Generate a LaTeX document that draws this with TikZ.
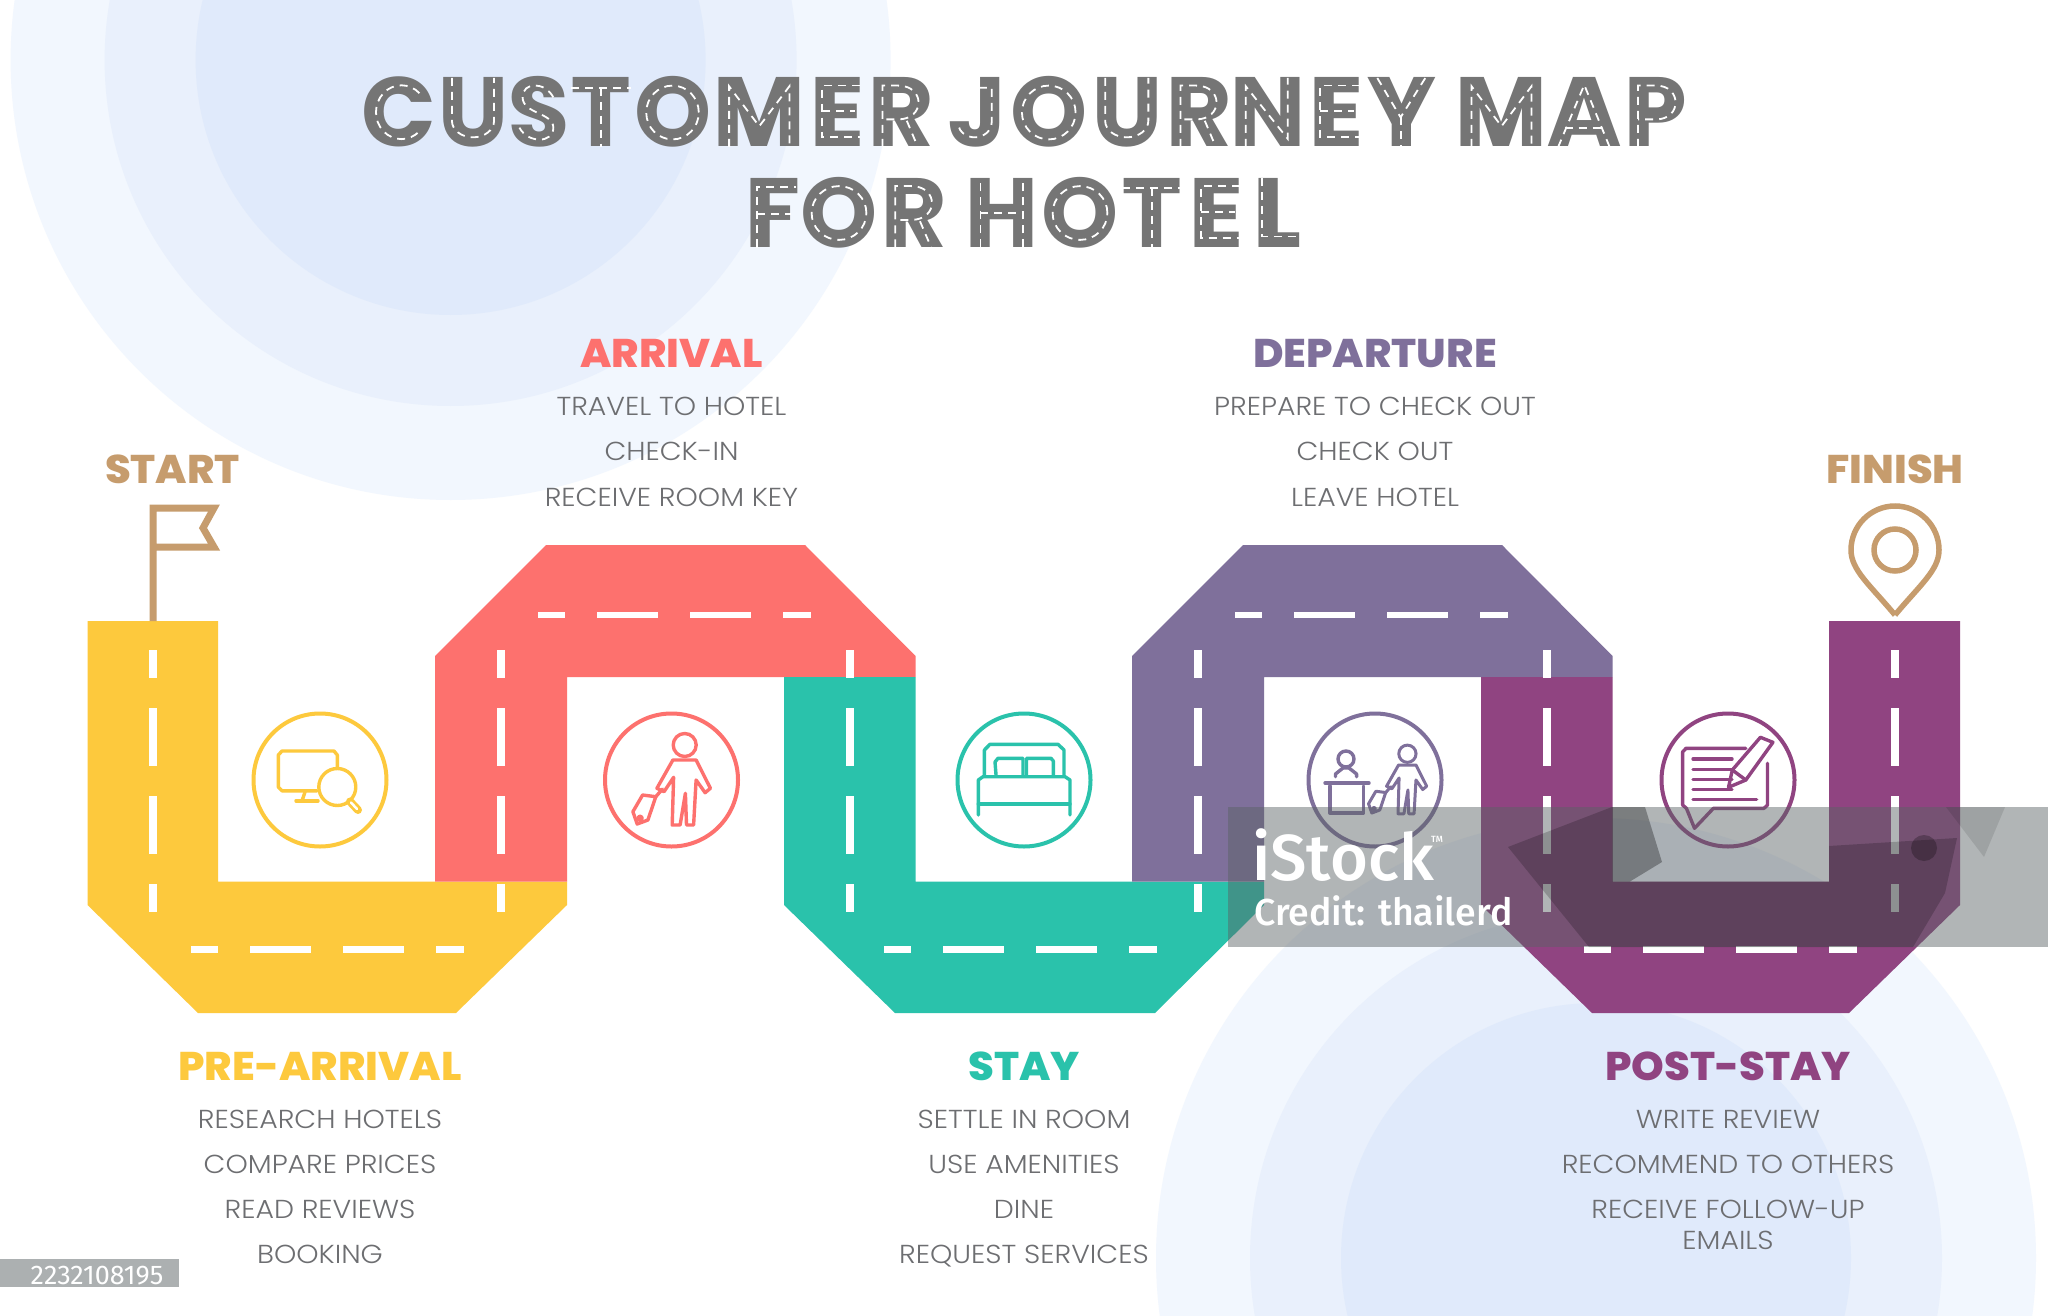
\documentclass[tikz,border=0pt]{standalone}
\usepackage{fontspec}
\setmainfont{Poppins}[UprightFont=* Light,BoldFont=* Bold,FakeStretch=1.09]
\newfontfamily\headfont{Poppins}[UprightFont=* ExtraBold,FakeStretch=1.04]
\newfontfamily\titlefont{Poppins}[UprightFont=* ExtraBold]
\newfontfamily\markfont{Fira Sans}[UprightFont=* Medium]
\newfontfamily\idfont{Fira Sans}
\definecolor{roadyellow}{HTML}{FDC93D}
\definecolor{roadred}{HTML}{FD716E}
\definecolor{roadteal}{HTML}{2AC2AB}
\definecolor{roadslate}{HTML}{7F709B}
\definecolor{roadplum}{HTML}{904481}
\definecolor{signtan}{HTML}{C69C6D}
\definecolor{itemgray}{HTML}{6D6E71}
\definecolor{titlegray}{HTML}{757575}
\definecolor{discouter}{HTML}{F2F7FE}
\definecolor{discmiddle}{HTML}{E9F0FC}
\definecolor{discinner}{HTML}{E0EAFB}
\definecolor{bandgray}{HTML}{5A6264}
\newcommand{\ltrat}[2]{\hbox to 0pt{\hss#2\hss}\kern#1pt\relax}
\tikzset{
    vmark/.style={white,line width=8pt,dash pattern=on 28pt off 30pt on 58pt off 30pt on 58pt off 30pt on 28pt},
    hmark/.style={white,line width=6.5pt,dash pattern=on 27pt off 32pt on 61pt off 32pt on 61pt off 32pt on 28pt},
    heading/.style={anchor=base,inner sep=0pt,font=\headfont\fontsize{40}{40}\selectfont},
    item/.style={anchor=base,inner sep=0pt,text=itemgray,font=\fontsize{26}{30}\selectfont},
    titleline/.style={anchor=base west,inner sep=0pt,text=titlegray,font=\titlefont\fontsize{98}{98}\selectfont},
    badge/.style={circle,draw,line width=4pt,minimum size=133pt,inner sep=0pt},
    glyph/.style={line width=3.4pt,line join=round,line cap=round},
    lane/.style={white,line width=1.8pt,dash pattern=on 8pt off 6pt},
    traveller/.pic={
        \draw (13.2,-35) circle (11.5);
        \draw (1.4,-20) -- (24.6,-20) -- (38.9,8.3) -- (33.6,12.7) -- (24.6,0) -- (22.1,45) -- (15,45) -- (13.9,13.3)
            -- (8.6,45) -- (0.7,45) -- (2.1,-2.7) -- (-7.5,11.7) -- (-14.6,8.3) -- cycle;
        \draw (-38.6,31.7) -- (-28.9,15) -- (-15.7,16.7) -- (-23.6,40) -- (-34.3,44) -- cycle;
        \draw (-15.7,16.7) -- (-9,9);
        \draw (-31.4,38.3) circle (2);
    },
    laneC/.pic={\draw [lane] (.82,.78) arc [start angle=45,end angle=315,x radius=.38,y radius=.39];},
    laneO/.pic={\draw [lane] (.5,.5) ellipse [x radius=.37,y radius=.39];},
    laneU/.pic={\draw [lane] (.16,1) -- (.16,.38) arc [start angle=180,end angle=360,x radius=.34,y radius=.24] -- (.84,1);},
    laneS/.pic={\draw [lane] (.78,.72) .. controls (.62,.95) and (.2,.95) .. (.2,.72) .. controls (.2,.48) and (.78,.5) .. (.78,.28) .. controls (.78,.05) and (.3,.05) .. (.14,.28);},
    laneT/.pic={\draw [lane] (.02,.86) -- (.98,.86); \draw [lane] (.5,.86) -- (.5,0);},
    laneM/.pic={\draw [lane] (.13,0) -- (.13,.88) -- (.5,.3) -- (.87,.88) -- (.87,0);},
    laneE/.pic={\draw [lane] (.96,.89) -- (.2,.89) -- (.2,.14) -- (.96,.14); \draw [lane] (.2,.52) -- (.86,.52);},
    laneR/.pic={\draw [lane] (.18,0) -- (.18,.89) -- (.45,.89) .. controls (.92,.89) and (.92,.4) .. (.45,.4) -- (.18,.4); \draw [lane] (.6,.38) -- (.79,0);},
    laneJ/.pic={\draw [lane] (.26,.86) -- (.78,.86) -- (.78,.36) arc [start angle=0,end angle=-170,x radius=.33,y radius=.22];},
    laneN/.pic={\draw [lane] (.155,0) -- (.155,.88) -- (.82,.12) -- (.82,1);},
    laneY/.pic={\draw [lane] (.16,1) -- (.49,.43) -- (.84,1); \draw [lane] (.49,.43) -- (.49,0);},
    laneA/.pic={\draw [lane] (.14,0) -- (.5,.9) -- (.85,0); \draw [lane] (.23,.27) -- (.78,.27);},
    laneP/.pic={\draw [lane] (.19,0) -- (.19,.89) -- (.5,.89) .. controls (.95,.89) and (.95,.4) .. (.5,.4) -- (.19,.4);},
    laneF/.pic={\draw [lane] (.2,0) -- (.2,.88) -- (.96,.88); \draw [lane] (.2,.48) -- (.87,.48);},
    laneH/.pic={\draw [lane] (.17,0) -- (.17,1); \draw [lane] (.83,0) -- (.83,1); \draw [lane] (.17,.5) -- (.83,.5);},
    laneL/.pic={\draw [lane] (.21,1) -- (.21,.16) -- (.97,.16);}
}
\begin{document}
\begin{tikzpicture}[x=1pt,y=-1pt]
        \useasboundingbox (0,0) rectangle (2048,1316);
        \clip (0,0) rectangle (2048,1316);
        \fill [white] (0,0) rectangle (2048,1316);
        \foreach \cx/\cy in {450.6/60,1596/1258} {
            \fill [discouter] (\cx,\cy) circle (440);
            \fill [discmiddle] (\cx,\cy) circle (346);
            \fill [discinner] (\cx,\cy) circle (255);
        }
        \fill [roadyellow] (87.5,621) -- (218,621) -- (218,881.5) -- (567,881.5) -- (567,905) -- (456,1013) -- (198,1013) -- (87.5,905) -- cycle;
        \fill [roadred] (435,881.5) -- (435,656) -- (546,545) -- (805,545) -- (915.5,656) -- (915.5,677) -- (567,677) -- (567,881.5) -- cycle;
        \fill [roadteal] (784,677) -- (915.5,677) -- (915.5,881.5) -- (1264,881.5) -- (1264,905) -- (1155,1013) -- (895,1013) -- (784,905) -- cycle;
        \fill [roadslate] (1132,881.5) -- (1132,656) -- (1243,545) -- (1502,545) -- (1612.5,656) -- (1612.5,677) -- (1264,677) -- (1264,881.5) -- cycle;
        \fill [roadplum] (1481,677) -- (1612.5,677) -- (1612.5,881.5) -- (1829,881.5) -- (1829,621) -- (1960,621) -- (1960,905) -- (1849,1013) -- (1592,1013) -- (1481,905) -- cycle;
        \foreach \x in {153,501,849.5,1198,1546.5,1895}
            \draw [vmark] (\x,650) -- (\x,912);
        \foreach \x/\y in {191/949.5,538/615,884/949.5,1235/615,1584/949.5}
            \draw [hmark] (\x,\y) -- (\x+274,\y);

        \node (pre_badge) [badge,draw=roadyellow] at (320,780) {};
        \node (arrival_badge) [badge,draw=roadred] at (671.5,780) {};
        \node (stay_badge) [badge,draw=roadteal] at (1024,780) {};
        \node (departure_badge) [badge,draw=roadslate] at (1375,780) {};
        \node (post_badge) [badge,draw=roadplum] at (1728,780) {};

        \begin{scope}[shift={(320,780)},roadyellow,glyph]
            \draw (17.3,-12) -- (17.3,-25) -- (14,-29) -- (-38,-29) -- (-41.7,-25) -- (-41.7,7) -- (-38,10.8) -- (-3,10.8);
            \draw (17.3,7) circle (18.5);
            \draw [line width=8pt,line cap=round] (30,21.5) -- (38,30);
            \draw [white,line width=2.5pt] (31,22.5) -- (37,29);
            \draw (-15,12) -- (-18,20.8);
            \draw (-24,20.8) -- (-2,20.8);
        \end{scope}
        \begin{scope}[shift={(671.5,780)},roadred,glyph]
            \pic {traveller};
        \end{scope}
        \begin{scope}[shift={(1024,780)},roadteal,glyph]
            \draw (-39.6,-5) -- (-39.6,-30) -- (-34,-35.7) -- (34,-35.7) -- (40,-30) -- (40,-5);
            \draw (-27.9,-4) -- (-29,-18) -- (-26,-21.7) -- (-1,-21.7) -- (-1,-4);
            \draw (2.5,-4) -- (2.5,-21.7) -- (27,-21.7) -- (29.3,-19) -- (29.3,-4);
            \draw (-45.7,35) -- (-45.7,0) -- (-41,-3.3) -- (41,-3.3) -- (46,0) -- (46,35);
            \draw (-45.7,24) -- (46,24);
        \end{scope}
        \begin{scope}[shift={(1375,780)},roadslate,glyph]
            \draw (-39.5,-3.3) -- (-39.5,-6) -- (-32,-12) -- (-26,-12) -- (-18.4,-6) -- (-18.4,-3.3);
            \draw (-29,-21) circle (8);
            \draw (-50,3) -- (-6,3);
            \draw (-45,6) -- (-45,33) -- (-11.5,33) -- (-11.5,6);
            \pic [scale=.75,line width=3pt] at (22.5,0) {traveller};
        \end{scope}
        \begin{scope}[shift={(1728,780)},roadplum,glyph]
            \draw (17.8,-31.7) -- (-42,-31.7) -- (-45.4,-28) -- (-45.4,25) -- (-41.6,28.3) -- (-33.5,48.3) -- (-14.6,28.3) -- (36,28.3) -- (39.5,25) -- (39.5,-16.7);
            \foreach \y in {-21,-10.7,-0.7,9.3}
                \draw (-35,\y) -- (4,\y);
            \draw (-35,19.3) -- (28.6,19.3);
            \draw (0.5,7.3) -- (4.3,-10) -- (32.4,-42.7) -- (44.9,-37.7) -- (17.8,0) -- cycle;
            \draw (4.3,-10) -- (17.8,0);
        \end{scope}

        \draw [signtan,line width=7pt] (153,621) -- (153,508) -- (214,508) -- (203,528) -- (214,547) -- (153,547);
        \draw [signtan,line width=5.5pt] (1895,615) .. controls (1870,585) and (1851,570) .. (1851,550) arc (180:360:44) .. controls (1939,570) and (1920,585) .. (1895,615);
        \draw [signtan,line width=5.5pt] (1895,550) circle (21);

        \node (title_upper) [titleline] at (398,147) {\ltrat{75}{C}\ltrat{65.5}{U}\ltrat{62.5}{S}\ltrat{71.5}{T}\ltrat{86.75}{O}\ltrat{77.75}{M}\ltrat{64}{E}\ltrat{76.3}{R}\ltrat{0}{ }\ltrat{71.45}{J}\ltrat{78}{O}\ltrat{72.25}{U}\ltrat{68.5}{R}\ltrat{68.3}{N}\ltrat{65.5}{E}\ltrat{100.2}{Y}\ltrat{0}{ }\ltrat{82.75}{M}\ltrat{71.75}{A}\ltrat{0}{P}};
        \node (title_lower) [titleline] at (772.3,247.5) {\ltrat{66.7}{F}\ltrat{75.1}{O}\ltrat{87.8}{R}\ltrat{0}{ }\ltrat{78.25}{H}\ltrat{71.75}{O}\ltrat{64.75}{T}\ltrat{60.35}{E}\ltrat{0}{L}};
        \foreach \ltr/\ltrx/\ltrw in {C/364.5/67,U/442/62,S/512/53,T/570/62,O/637/71,M/718.5/81.5,E/812/50,R/872/58,J/951.6/51.4,O/1012.5/72.5,U/1095/63.5,R/1170/58,N/1236/63,E/1310/51.6,Y/1366/70.6,M/1461/81,A/1548/72.5,P/1627/58} {
            \begin{scope}[shift={(\ltrx,147)},xscale=\ltrw,yscale=-69]
                \pic [transform shape] {lane\ltr};
            \end{scope}
        }
        \foreach \ltr/\ltrx/\ltrw in {F/747/50.6,O/802/74,R/884.6/59,H/969.5/64.5,O/1043/74,T/1120.5/62.5,E/1191/51,L/1251/51.7} {
            \begin{scope}[shift={(\ltrx,247.5)},xscale=\ltrw,yscale=-69]
                \pic [transform shape] {lane\ltr};
            \end{scope}
        }

        \begin{scope}[every node/.style={heading}]
            \node (start) [text=signtan] at (172.5,483) {START};
            \node (finish) [text=signtan] at (1895,483) {FINISH};
            \node (arrival) [text=roadred] at (671.5,367) {ARRIVAL};
            \node (departure) [text=roadslate] at (1375,367) {DEPARTURE};
            \node (pre_arrival) [text=roadyellow] at (320,1080) {PRE-ARRIVAL};
            \node (stay) [text=roadteal] at (1024,1080) {STAY};
            \node (post_stay) [text=roadplum] at (1728,1080) {POST-STAY};
        \end{scope}
        \begin{scope}[every node/.style={item}]
            \node (arrival_travel) at (671.5,415) {TRAVEL TO HOTEL};
            \node (arrival_checkin) at (671.5,460) {CHECK-IN};
            \node (arrival_key) at (671.5,506) {RECEIVE ROOM KEY};
            \node (departure_prepare) at (1375,415) {PREPARE TO CHECK OUT};
            \node (departure_checkout) at (1375,460) {CHECK OUT};
            \node (departure_leave) at (1375,506) {LEAVE HOTEL};
            \node (pre_research) at (320,1128) {RESEARCH HOTELS};
            \node (pre_compare) at (320,1173) {COMPARE PRICES};
            \node (pre_reviews) at (320,1218) {READ REVIEWS};
            \node (pre_booking) at (320,1263) {BOOKING};
            \node (stay_settle) at (1024,1128) {SETTLE IN ROOM};
            \node (stay_amenities) at (1024,1173) {USE AMENITIES};
            \node (stay_dine) at (1024,1218) {DINE};
            \node (stay_services) at (1024,1263) {REQUEST SERVICES};
            \node (post_review) at (1728,1128) {WRITE REVIEW};
            \node (post_recommend) at (1728,1173) {RECOMMEND TO OTHERS};
            \node (post_followup) at (1728,1218) {RECEIVE FOLLOW-UP};
            \node (post_emails) at (1728,1249) {EMAILS};
        \end{scope}

        \fill [bandgray,opacity=.47] (1228,807) rectangle (2048,947);
        \fill [black,opacity=.2] (1508,847) -- (1612,807) -- (1612,881.5) -- (1829,881.5) -- (1829,846) -- (1957,838) -- (1945,893) -- (1913,947) -- (1589,947) -- cycle;
        \fill [black,opacity=.3] (1612,807) -- (1645,807) -- (1662,862) -- (1630,881.5) -- (1612,881.5) -- cycle;
        \fill [black,opacity=.1] (1946,807) -- (2005,807) -- (1984,857) -- cycle;
        \fill [black,opacity=.25] (1924,848) circle (13);
        \node (istock) [anchor=base west,inner sep=0pt,text=white,font=\markfont\fontsize{65}{65}\selectfont] at (1252,880) {iStock};
        \node (trademark) [anchor=center,inner sep=0pt,text=white,font=\markfont\fontsize{9}{9}\selectfont] at (1437,839) {TM};
        \node (credit) [anchor=base west,inner sep=0pt,text=white,font=\markfont\fontsize{37.5}{37.5}\selectfont] at (1254,925) {Credit: thailerd};
        \fill [bandgray!50!white] (0,1259) rectangle (179,1287);
        \node (stock_id) [anchor=base,inner sep=0pt,text=white,font=\idfont\fontsize{27}{27}\selectfont] at (97,1284) {2232108195};
    \end{tikzpicture}
\end{document}
